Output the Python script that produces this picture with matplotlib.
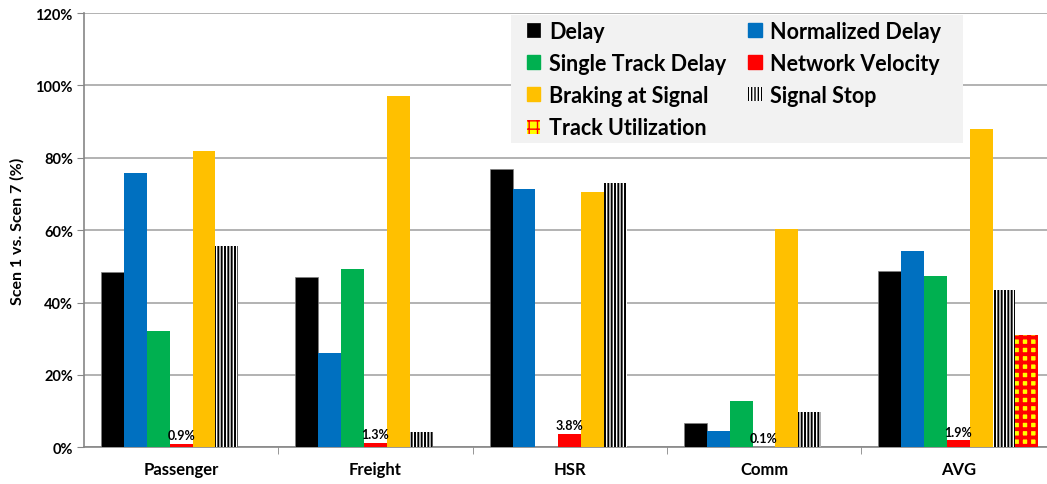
import numpy as np
import matplotlib
matplotlib.use("Agg")
import matplotlib.pyplot as plt
from matplotlib.patches import Patch, Rectangle
from matplotlib.ticker import FixedLocator, PercentFormatter

# chart data (values in %)
groups = ["Passenger", "Freight", "HSR", "Comm", "AVG"]
series = ["Delay", "Normalized Delay", "Single Track Delay", "Network Velocity",
          "Braking at Signal", "Signal Stop", "Track Utilization"]
delay = [48.5, 47.1, 76.8, 6.6, 48.6]
normalized_delay = [75.7, 26.1, 71.4, 4.4, 54.2]
single_track_delay = [32.1, 49.3, 0.0, 12.7, 47.3]
network_velocity = [0.9, 1.3, 3.8, 0.1, 1.9]
braking_at_signal = [82.0, 97.2, 70.5, 60.2, 88.0]
signal_stop = [55.6, 4.1, 72.9, 9.7, 43.5]
track_utilization = [0, 0, 0, 0, 30.9]
velocity_labels = ["0.9%", "1.3%", "3.8%", "0.1%", "1.9%"]

values = [delay, normalized_delay, single_track_delay, network_velocity,
          braking_at_signal, signal_stop, track_utilization]

styles = [
    dict(color="#000000", edgecolor="#7f7f7f", linewidth=0.5),
    dict(color="#0070C0"),
    dict(color="#00B050"),
    dict(color="#FF0000"),
    dict(color="#FFC000"),
    dict(facecolor="white", edgecolor="black", hatch="|||||", linewidth=0),
    dict(facecolor="#FFFF00", edgecolor="#FF0000", hatch="++", linewidth=0),
]
hatch_lw = [1.4, 1.4, 1.4, 1.4, 1.4, 1.4, 2.8]

plt.rcParams["font.family"] = ["Lato", "DejaVu Sans"]
plt.rcParams["font.weight"] = "bold"

fig = plt.figure(figsize=(10.47, 4.85), dpi=100)
ax = fig.add_axes([84 / 1047, 1 - 448.3 / 485, 971.5 / 1047, 434.3 / 485])

x = np.arange(len(groups))
w = 0.1176
handles = []
for i, (name, vals, st) in enumerate(zip(series, values, styles)):
    pos = x - 3 * w + i * w
    vals_plot = [v if v > 0 else np.nan for v in vals] if name == "Track Utilization" else vals
    with plt.rc_context({"hatch.linewidth": hatch_lw[i]}):
        ax.bar(pos, vals_plot, width=w, label=name, zorder=3, **st)
        handles.append(Patch(label=name, **st))

# value labels on network velocity bars
vel_pos = x - 3 * w + 3 * w
for px, v, lab in zip(vel_pos, network_velocity, velocity_labels):
    ax.annotate(lab, (px, v), xytext=(0, 2), textcoords="offset points",
                ha="center", va="bottom", fontsize=9, fontweight="bold", zorder=5)

ax.set_xlim(-0.5, len(groups) - 0.5)
ax.set_ylim(0, 120)
ax.yaxis.set_major_locator(FixedLocator(np.arange(0, 121, 20)))
ax.yaxis.set_major_formatter(PercentFormatter(decimals=0))
ax.grid(axis="y", color="#a6a6a6", linewidth=1.2, zorder=0)
ax.set_axisbelow(True)

ax.set_xticks(x)
ax.set_xticklabels(groups, fontsize=12, fontweight="bold")
ax.xaxis.set_minor_locator(FixedLocator(np.arange(0.5, len(groups) - 0.5, 1)))
ax.tick_params(axis="x", which="major", length=0, pad=10)
ax.tick_params(axis="x", which="minor", length=5, color="#868686", direction="out")
ax.tick_params(axis="y", length=5, color="#868686", labelsize=10.5, pad=3)
for lab in ax.get_yticklabels():
    lab.set_fontweight("bold")

for s in ["top", "right"]:
    ax.spines[s].set_visible(False)
for s in ["left", "bottom"]:
    ax.spines[s].set_color("#868686")
    ax.spines[s].set_linewidth(1.2)

ax.set_ylabel("Scen 1 vs. Scen 7 (%)", fontsize=11.5, fontweight="bold", labelpad=8)

# legend background box
ax.add_patch(Rectangle((0.4395, 0.7007), 0.4653, 0.2947, transform=ax.transAxes,
                       facecolor="#F2F2F2", edgecolor="none", zorder=9))

# legend: two columns, row order as in the original
order = [0, 2, 4, 6, 1, 3, 5]
leg = ax.legend([handles[i] for i in order], [series[i] for i in order],
                ncol=2, loc="upper left", bbox_to_anchor=(0.456, 0.9825),
                borderaxespad=0, frameon=False, borderpad=0,
                prop=dict(family=["Lato", "DejaVu Sans"], weight="bold", size=15.5),
                handlelength=0.62, handleheight=0.62, handletextpad=0.4,
                columnspacing=1.03, labelspacing=0.52)
leg.set_zorder(10)

fig.savefig("out.png", dpi=100)
